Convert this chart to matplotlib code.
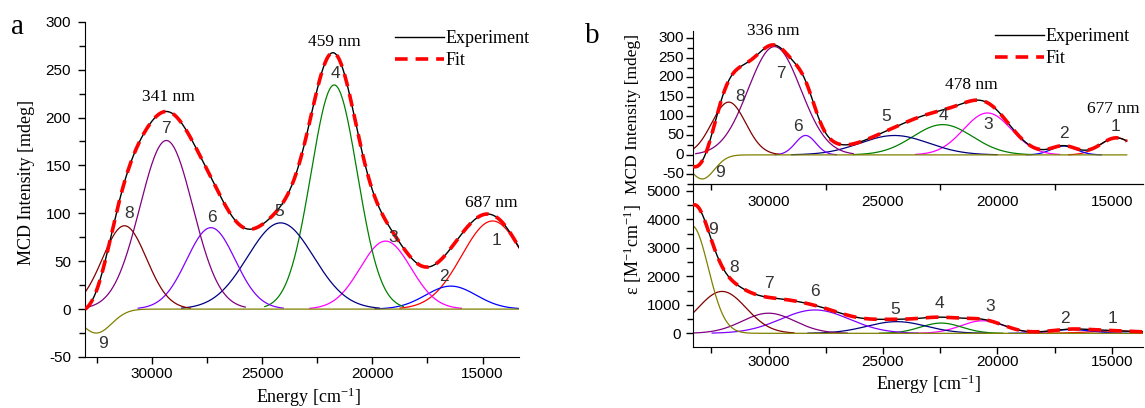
import numpy as np
import matplotlib
matplotlib.use('Agg')
import matplotlib.pyplot as plt
from matplotlib.ticker import MultipleLocator
from matplotlib.lines import Line2D

plt.rcParams['font.family'] = 'Liberation Sans'
plt.rcParams['mathtext.fontset'] = 'custom'
plt.rcParams['mathtext.rm'] = 'Liberation Serif'
plt.rcParams['mathtext.default'] = 'regular'
plt.rcParams['axes.unicode_minus'] = False
SERIF = 'Liberation Serif'

W, H = 1145, 408

# gaussian bands 1..9: centre [cm-1], height, sigma [cm-1]
band_names = ['1', '2', '3', '4', '5', '6', '7', '8', '9']
band_colors = ['#ff0000', '#0000ff', '#ff00ff', '#008000', '#000080',
               '#8000ff', '#800080', '#800000', '#808000']

# panel a (MCD)
a_center = [14550, 16440, 19400, 21730, 24160, 27320, 29340, 31240, 32520]
a_height = [92, 24, 71, 234, 90, 85, 176, 87, -25]
a_width = [1400, 1150, 1150, 1050, 1500, 1100, 1200, 1000, 700]
a_label_x = [14380, 16740, 19060, 21690, 24240, 27290, 29340, 31040, 32220]
a_label_y = [72, 34, 75, 246, 102, 96, 188, 100, -36]
a_peaks = ['341 nm', '459 nm', '687 nm']
a_peak_x = [29260, 21730, 14605]
a_peak_y = [221, 279, 111]

# panel b top (MCD)
b1_center = [14800, 17100, 20435, 22390, 24500, 28380, 29740, 31740, 32900]
b1_height = [44, 23, 108, 78, 50, 50, 279, 136, -62]
b1_width = [700, 550, 1050, 1300, 1500, 450, 1150, 740, 540]
b1_label_x = [14860, 17100, 20400, 22350, 24860, 28700, 29450, 31230, 32100]
b1_label_y = [73, 56, 79, 102, 98, 74, 211, 150, -45]
b1_yticks = [-50, 0, 50, 100, 150, 200, 250, 300]
b1_peaks = ['336 nm', '478 nm', '677 nm']
b1_peak_x = [29780, 21160, 14930]
b1_peak_y = [318, 179, 117]

# panel b bottom (absorption)
b2_center = [14800, 16800, 20650, 22460, 24400, 27970, 30000, 32030, 33350]
b2_height = [80, 130, 440, 360, 410, 820, 706, 1470, 3780]
b2_width = [1200, 900, 950, 900, 1300, 1500, 1150, 1050, 720]
b2_label_x = [14960, 17030, 20320, 22540, 24450, 27970, 30000, 31520, 32420]
b2_label_y = [530, 530, 940, 1034, 822, 1470, 1740, 2293, 3646]


def gauss(e, c, h, w):
    return h * np.exp(-0.5 * ((e - c) / w) ** 2)


def draw_bands(ax, e, centers, heights, widths):
    total = np.zeros_like(e)
    for i in range(len(centers)):
        y = gauss(e, centers[i], heights[i], widths[i])
        total = total + y
        if i == 8:
            m = np.ones_like(e, dtype=bool)
        else:
            m = np.abs(e - centers[i]) < 3 * widths[i]
        ax.plot(e[m], y[m], color=band_colors[i], lw=0.9, zorder=2)
    # experiment and fit practically coincide
    ax.plot(e, total, color='black', lw=1.0, zorder=3)
    ax.plot(e, total, color='red', lw=2.6, dashes=(3.5, 2.2), zorder=4)


def style(ax, ymaj, ymin, xpad, ypad):
    for s in ['top', 'right']:
        ax.spines[s].set_visible(False)
    ax.xaxis.set_major_locator(MultipleLocator(5000))
    ax.xaxis.set_minor_locator(MultipleLocator(2500))
    ax.yaxis.set_major_locator(MultipleLocator(ymaj))
    ax.yaxis.set_minor_locator(MultipleLocator(ymin))
    ax.tick_params(axis='both', which='both', direction='out', width=1.0,
                   labelsize=11)
    ax.tick_params(axis='both', which='major', length=5)
    ax.tick_params(axis='both', which='minor', length=4)
    ax.tick_params(axis='x', pad=xpad)
    ax.tick_params(axis='y', pad=ypad)
    ax.xaxis.set_major_formatter(plt.FuncFormatter(lambda v, p: '%d' % v))


def frac(x0, y0, x1, y1):
    return [x0 / W, 1 - y1 / H, (x1 - x0) / W, (y1 - y0) / H]


fig = plt.figure(figsize=(W / 100, H / 100), dpi=100)

# ---- panel a
ax = fig.add_axes(frac(85, 21.7, 519, 357))
e = np.linspace(33030, 13350, 800)
draw_bands(ax, e, a_center, a_height, a_width)
ax.set_xlim(33030, 13350)
ax.set_ylim(-50, 300)
style(ax, 50, 25, 2, 5)
for i in range(9):
    ax.text(a_label_x[i], a_label_y[i], band_names[i], fontsize=12.5,
            ha='center', va='center', color='#333333', zorder=5)
for i in range(3):
    ax.text(a_peak_x[i], a_peak_y[i], a_peaks[i], fontsize=12.5,
            family=SERIF, ha='center', va='center', zorder=5)
hd = [Line2D([], [], color='black', lw=1.0),
      Line2D([], [], color='red', lw=2.6, dashes=(3.5, 2.2))]
fig.legend(hd, ['Experiment', 'Fit'], loc='upper left',
           bbox_to_anchor=(395 / W, 1 - 30 / H), frameon=False,
           prop={'family': SERIF, 'size': 13}, handlelength=2.7,
           handletextpad=0.1, labelspacing=0.3, borderpad=0,
           borderaxespad=0)
fig.text(27 / W, 1 - 182 / H, 'MCD Intensity [mdeg]', rotation=90,
         family=SERIF, fontsize=13, ha='center', va='center')
fig.text(309 / W, 1 - 397 / H, 'Energy [cm$^{-1}$]', family=SERIF,
         fontsize=13, ha='center', va='center')
fig.text(18 / W, 1 - 27 / H, 'a', family=SERIF, fontsize=21,
         ha='center', va='center')

# ---- panel b bottom (added first so the top panel's labels sit above it)
ax2 = fig.add_axes(frac(693, 184, 1143, 347))
ax2.patch.set_visible(False)
e2 = np.linspace(33300, 13640, 800)
draw_bands(ax2, e2, b2_center, b2_height, b2_width)
ax2.set_xlim(33300, 13640)
ax2.set_ylim(-480, 5240)
style(ax2, 1000, 500, 1, 4)
ax2.spines['top'].set_visible(True)
for i in range(9):
    ax2.text(b2_label_x[i], b2_label_y[i], band_names[i], fontsize=12.5,
             ha='center', va='center', color='#333333', zorder=5)
fig.text(633 / W, 1 - 250 / H, '\u03b5 [M$^{-1}$cm$^{-1}$]', rotation=90,
         family=SERIF, fontsize=13, ha='center', va='center')
fig.text(929 / W, 1 - 384 / H, 'Energy [cm$^{-1}$]', family=SERIF,
         fontsize=13, ha='center', va='center')

# ---- panel b top
ax1 = fig.add_axes(frac(693, 30.7, 1143, 184))
ax1.patch.set_visible(False)
e1 = np.linspace(33300, 14350, 800)
draw_bands(ax1, e1, b1_center, b1_height, b1_width)
ax1.set_xlim(33300, 13640)
style(ax1, 50, 25, 4, 4)
ax1.set_yticks(b1_yticks)
ax1.set_ylim(-75, 320)
ax1.tick_params(axis='y', which='both', labelleft=False)
ax1.tick_params(axis='x', which='major', length=0, pad=8)
ylab = ax1.get_yaxis_transform()
for v in b1_yticks:
    ax1.text(-0.02, v, str(v), transform=ylab, fontsize=11,
             ha='right', va='center', clip_on=False)
for i in range(9):
    ax1.text(b1_label_x[i], b1_label_y[i], band_names[i], fontsize=12.5,
             ha='center', va='center', color='#333333', zorder=5)
for i in range(3):
    ax1.text(b1_peak_x[i], b1_peak_y[i], b1_peaks[i], fontsize=12.5,
             family=SERIF, ha='center', va='center', zorder=5, clip_on=False)
fig.legend(hd, ['Experiment', 'Fit'], loc='upper left',
           bbox_to_anchor=(995 / W, 1 - 28 / H), frameon=False,
           prop={'family': SERIF, 'size': 13}, handlelength=2.7,
           handletextpad=0.1, labelspacing=0.3, borderpad=0,
           borderaxespad=0)
fig.text(633 / W, 1 - 114 / H, 'MCD Intensity [mdeg]', rotation=90,
         family=SERIF, fontsize=12.5, ha='center', va='center')
fig.text(592 / W, 1 - 36 / H, 'b', family=SERIF, fontsize=21,
         ha='center', va='center')

fig.savefig('out.png', dpi=100)
